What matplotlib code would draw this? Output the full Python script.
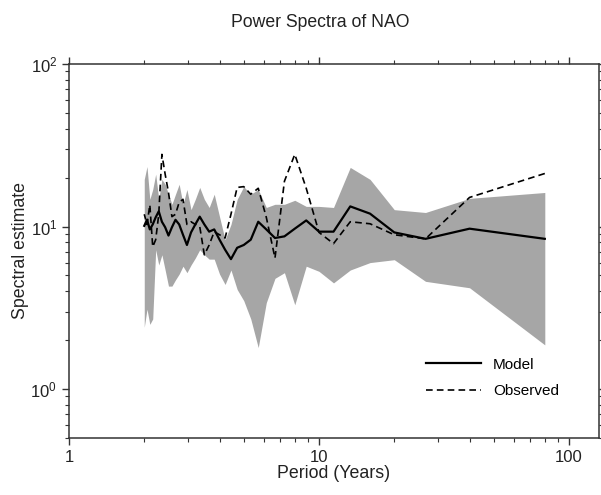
import matplotlib
matplotlib.use("Agg")
import matplotlib.pyplot as plt
import numpy as np
from matplotlib.ticker import LogLocator, FuncFormatter, NullFormatter

plt.rcParams["font.family"] = ["Liberation Sans", "DejaVu Sans"]

# harmonics k = 1..40 of an 80-year record
harmonic = np.arange(1, 41)
period = 80.0 / harmonic

model = [8.4, 9.7, 8.4, 9.2, 12.0, 13.3, 9.3, 9.3, 10.9, 9.7,
         8.7, 8.5, 9.6, 10.7, 8.3, 7.7, 7.4, 6.3, 7.2, 8.3,
         9.6, 9.3, 10.3, 11.5, 10.3, 9.2, 7.7, 8.9, 10.3, 11.0,
         9.9, 8.8, 9.9, 10.7, 12.4, 11.4, 10.3, 9.6, 11.0, 10.1]

observed = [21.2, 15.1, 8.4, 8.9, 10.4, 10.7, 7.85, 9.2, 17.2, 27.8,
            19.0, 6.4, 11.4, 17.2, 15.8, 17.6, 17.4, 11.9, 8.5, 8.9,
            9.3, 7.7, 6.7, 10.0, 10.3, 10.7, 10.3, 14.7, 14.1, 11.9,
            11.5, 16.2, 21.0, 27.8, 11.9, 8.3, 7.5, 13.6, 10.3, 11.9]

band_upper = [16.2, 14.9, 12.2, 12.7, 19.5, 23.1, 13.1, 13.3, 13.3, 14.5,
              13.7, 13.7, 13.1, 16.9, 15.8, 17.6, 14.7, 10.3, 8.3, 11.5,
              15.8, 13.1, 14.7, 17.4, 14.7, 12.7, 16.9, 13.7, 18.2, 15.8,
              13.7, 15.8, 18.2, 19.5, 14.7, 21.0, 16.9, 14.7, 23.4, 19.5]

band_lower = [1.87, 4.2, 4.6, 6.25, 6.0, 5.4, 4.5, 5.3, 5.7, 3.3,
              5.2, 4.8, 3.4, 1.8, 2.7, 3.5, 4.1, 5.4, 4.4, 5.1,
              6.3, 6.3, 6.7, 7.2, 6.4, 5.8, 5.2, 5.7, 5.1, 4.7,
              4.3, 4.3, 5.4, 6.7, 5.8, 7.2, 2.7, 2.5, 3.1, 2.4]

fig = plt.figure(figsize=(6.01, 4.95), dpi=100)
ax = fig.add_axes([0.1148, 0.1152, 0.8819, 0.7555])

ax.fill_between(period, band_lower, band_upper, color="#a6a6a6", lw=0)
ax.plot(period, model, color="black", lw=1.6, label="Model")
ax.plot(period, observed, color="black", lw=1.2, ls=(0, (4, 2.5)), label="Observed")

ax.set_xscale("log")
ax.set_yscale("log")
ax.set_xlim(1, 131.8)
ax.set_ylim(0.5, 100)

ax.xaxis.set_major_formatter(FuncFormatter(lambda v, p: "%g" % v))
ax.xaxis.set_minor_formatter(NullFormatter())
ax.yaxis.set_major_locator(LogLocator(base=10, numticks=10))
ax.yaxis.set_minor_locator(LogLocator(base=10, subs=np.arange(2, 10), numticks=10))
ax.yaxis.set_minor_formatter(NullFormatter())

ax.tick_params(which="both", direction="out", top=True, right=True,
               colors="#333333", labelcolor="#222222", labelsize=12)
ax.tick_params(which="major", length=5, width=1)
ax.tick_params(which="minor", length=3, width=0.8)
for s in ax.spines.values():
    s.set_linewidth(1.1)
    s.set_color("#333333")

ax.set_xlabel("Period (Years)", fontsize=12.8, color="#222222", labelpad=0)
ax.set_ylabel("Spectral estimate", fontsize=12.8, color="#222222", labelpad=1)
fig.text(0.533, 0.955, "Power Spectra of NAO", ha="center", va="center",
         fontsize=12.7, color="#222222")

ax.legend(loc="lower right", bbox_to_anchor=(0.95, 0.07), frameon=False,
          fontsize=11, handlelength=3.6, handletextpad=0.8, labelspacing=0.8)

fig.savefig("out.png", dpi=100)
